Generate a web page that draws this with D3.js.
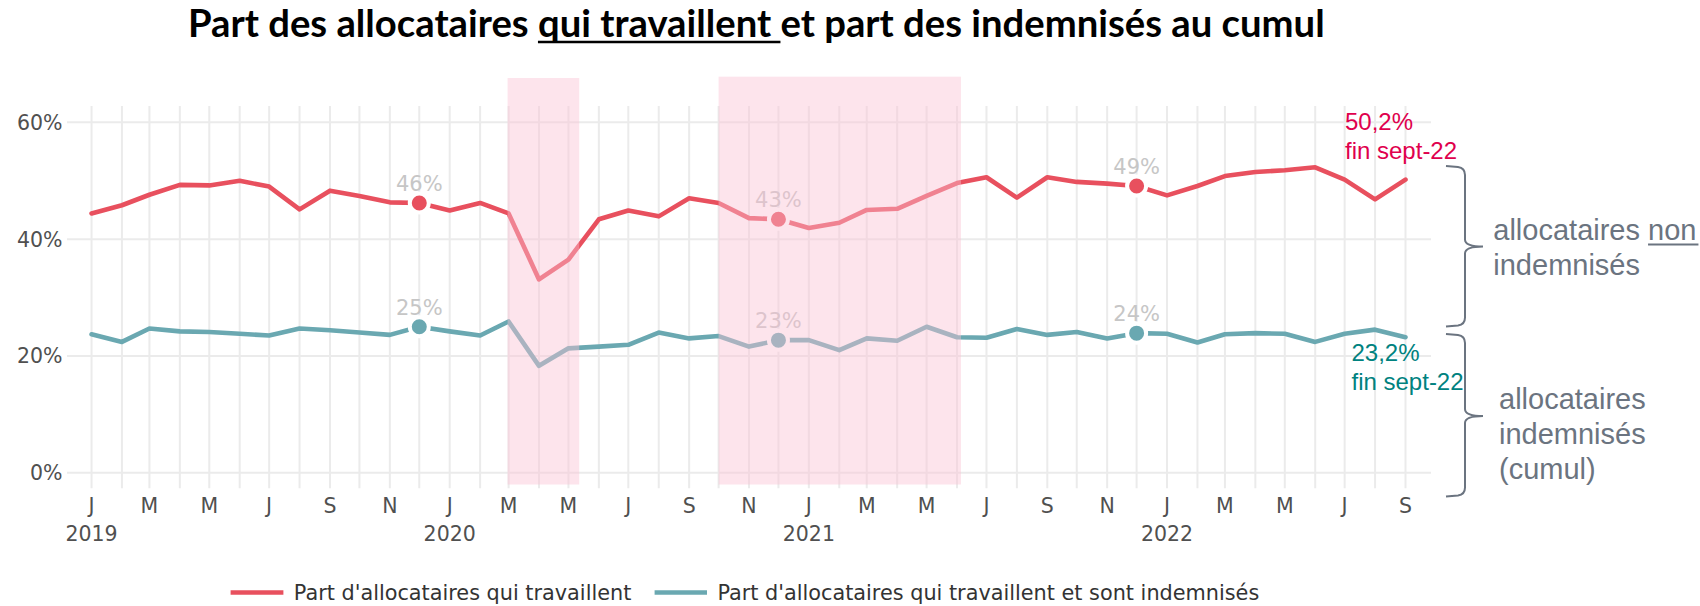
<!DOCTYPE html>
<html><head><meta charset="utf-8">
<script src="https://cdn.jsdelivr.net/npm/d3@7"></script>
<style>
html,body{margin:0;padding:0;background:#fff;}
svg{display:block;}
</style></head>
<body>
<svg id="chart" width="1700" height="606"></svg>
<script>
// ---------- DATA ----------
const months = [
 "2019-01","2019-02","2019-03","2019-04","2019-05","2019-06","2019-07","2019-08","2019-09","2019-10","2019-11","2019-12",
 "2020-01","2020-02","2020-03","2020-04","2020-05","2020-06","2020-07","2020-08","2020-09","2020-10","2020-11","2020-12",
 "2021-01","2021-02","2021-03","2021-04","2021-05","2021-06","2021-07","2021-08","2021-09","2021-10","2021-11","2021-12",
 "2022-01","2022-02","2022-03","2022-04","2022-05","2022-06","2022-07","2022-08","2022-09"
];
const partTravaillent = [
 44.4,45.8,47.6,49.3,49.2,50.0,49.0,45.1,48.3,47.4,46.3,46.2,
 44.9,46.2,44.4,33.1,36.5,43.4,44.9,43.9,47.0,46.2,43.6,43.4,
 41.9,42.8,45.0,45.2,47.4,49.6,50.6,47.1,50.6,49.8,49.5,49.1,
 47.5,49.1,50.8,51.5,51.8,52.3,50.2,46.8,50.2
];
const partIndemnises = [
 23.7,22.4,24.7,24.2,24.1,23.8,23.5,24.7,24.4,24.0,23.6,25.0,
 24.2,23.5,25.9,18.3,21.3,21.6,21.9,24.0,23.0,23.4,21.6,22.7,
 22.7,21.0,23.0,22.6,25.0,23.2,23.1,24.6,23.6,24.1,23.0,23.9,
 23.8,22.3,23.7,23.9,23.8,22.4,23.8,24.5,23.2
];
const seriesNames = ["Part d'allocataires qui travaillent","Part d'allocataires qui travaillent et sont indemnisés"];
const seriesColors = ["#e8505e","#6aa8b1"];
const yTicks = [0,20,40,60];
const monthLetters = ["J","F","M","A","M","J","J","A","S","O","N","D"];
const highlightMonths = ["2019-12","2020-12","2021-12"];
const shadedPeriods = [["2020-02-29","2020-05-12"],["2020-10-01","2021-06-05"]];
const titleParts = ["Part des allocataires ","qui travaillent ","et part des indemnisés au cumul"];
const endLabels = [["50,2%","fin sept-22"],["23,2%","fin sept-22"]];
const braceLabels = [[["allocataires ","non"],["indemnisés"]],[["allocataires"],["indemnisés"],["(cumul)"]]];

// ---------- SETUP ----------
const svg = d3.select("#chart");
const parseM = d3.utcParse("%Y-%m");
const parseD = d3.utcParse("%Y-%m-%d");
const dates = months.map(parseM);
const x = d3.scaleUtc().domain([Date.UTC(2018,11,7), Date.UTC(2022,8,27)]).range([67,1431]);
const y = d3.scaleLinear().domain([-2.67, 62.8]).range([488.3,106]);
const axisFont = "'DejaVu Sans', Verdana, sans-serif";
const annFont = "'Liberation Sans', Arial, sans-serif";

// gridlines
const grid = svg.append("g");
grid.selectAll("line.v").data(dates).join("line")
  .attr("x1", d=>x(d)).attr("x2", d=>x(d)).attr("y1", y.range()[1]).attr("y2", y.range()[0])
  .attr("stroke","#ebebeb").attr("stroke-width",2);
grid.selectAll("line.h").data(yTicks).join("line")
  .attr("x1", x.range()[0]).attr("x2", x.range()[1]).attr("y1", d=>y(d)).attr("y2", d=>y(d))
  .attr("stroke","#ebebeb").attr("stroke-width",2);

// y axis labels
svg.append("g").selectAll("text").data(yTicks).join("text")
  .attr("x", 62.5).attr("y", d=>y(d)+7.5).attr("text-anchor","end")
  .style("font-family",axisFont).style("font-size","20.5px").attr("fill","#505050")
  .text(d=>d+"%");

// x axis labels (every 2 months)
const xl = svg.append("g").style("font-family",axisFont).style("font-size","20.5px").attr("fill","#505050");
dates.forEach((d,i)=>{
  if (d.getUTCMonth()%2===0){
    xl.append("text").attr("x",x(d)).attr("y",513).attr("text-anchor","middle").text(monthLetters[d.getUTCMonth()]);
  }
  if (d.getUTCMonth()===0){
    xl.append("text").attr("x",x(d)).attr("y",540.5).attr("text-anchor","middle").text(d.getUTCFullYear());
  }
});

// lines
const seriesVals = [partTravaillent, partIndemnises];
const line = d3.line().x((v,i)=>x(dates[i])).y(v=>y(v));
seriesVals.forEach((vals,k)=>{
  svg.append("path").datum(vals).attr("d",line).attr("fill","none")
    .attr("stroke",seriesColors[k]).attr("stroke-width",4.6).attr("stroke-linejoin","round").attr("stroke-linecap","round");
});

// markers + labels
seriesVals.forEach((vals,k)=>{
  highlightMonths.forEach(m=>{
    const i = months.indexOf(m);
    const cx = x(dates[i]), cy = y(vals[i]);
    svg.append("circle").attr("cx",cx).attr("cy",cy).attr("r",9.5)
      .attr("fill",seriesColors[k]).attr("stroke","#fff").attr("stroke-width",4);
    svg.append("text").attr("x",cx).attr("y",cy-12).attr("text-anchor","middle")
      .style("font-family",axisFont).style("font-size","21px").attr("fill","#c6c6c6")
      .text(Math.round(vals[i])+"%");
  });
});

// shaded periods (overlay)
svg.append("g").selectAll("rect").data(shadedPeriods).join("rect")
  .attr("x", d=>x(parseD(d[0]))).attr("width", d=>x(parseD(d[1]))-x(parseD(d[0])))
  .attr("y", (d,i)=> i===0 ? 78 : 76.7).attr("height", (d,i)=> 484.5 - (i===0 ? 78 : 76.7))
  .attr("fill","rgb(250,194,212)").attr("fill-opacity",0.44);

// end annotations
const endColors = ["#e0004d","#00827f"];
const endPos = [[1345,130],[1351.5,361]];
endLabels.forEach((lines,k)=>{
  const t = svg.append("text").style("font-family",annFont).style("font-size","24px").attr("fill",endColors[k]);
  lines.forEach((s,j)=> t.append("tspan").attr("x",endPos[k][0]).attr("y",endPos[k][1]+j*28.5).text(s));
});

// braces
const braceGray = "#6b7480";
function bracePath(x0, xs, xt, top, mid, bottom){
  const r = 7;
  return `M${x0},${top} L${xs-r},${top+1} Q${xs},${top+2} ${xs},${top+r+2} L${xs},${mid-r} Q${xs},${mid} ${xt},${mid} Q${xs},${mid} ${xs},${mid+r} L${xs},${bottom-r-2} Q${xs},${bottom-2} ${xs-r},${bottom-1} L${x0},${bottom}`;
}
const braces = [[166,246.5,326.5],[334,416,496.5]];
braces.forEach(b=>{
  svg.append("path").attr("d",bracePath(1446,1465,1483,b[0],b[1],b[2]))
    .attr("fill","none").attr("stroke",braceGray).attr("stroke-width",2);
});
const braceTextPos = [[1493.3,239.5],[1499,408.5]];
braceLabels.forEach((lines,k)=>{
  lines.forEach((parts,j)=>{
    const t = svg.append("text").attr("x",braceTextPos[k][0]).attr("y",braceTextPos[k][1]+j*35)
      .style("font-family",annFont).style("font-size","29px").attr("fill",braceGray).attr("xml:space","preserve");
    parts.forEach(p=> t.append("tspan").text(p));
    if (parts.length>1){
      const node = t.node();
      const start = node.getStartPositionOfChar(parts[0].length).x;
      const end = node.getEndPositionOfChar(parts[0].length+parts[1].length-1).x;
      svg.append("line").attr("x1",start).attr("x2",end+2)
        .attr("y1",braceTextPos[k][1]+j*35+5).attr("y2",braceTextPos[k][1]+j*35+5)
        .attr("stroke",braceGray).attr("stroke-width",2.2);
    }
  });
});

// title
const title = svg.append("text").attr("x",188).attr("y",37)
  .style("font-family","Lato, 'Open Sans', sans-serif").style("font-weight","700").style("font-size","32px")
  .attr("fill","#000").attr("xml:space","preserve").text(titleParts.join(""));
const w0 = title.node().getComputedTextLength();
title.style("font-size", (32*1137/w0)+"px");
{
  const node = title.node();
  const s = node.getStartPositionOfChar(titleParts[0].length).x;
  const e = node.getStartPositionOfChar(titleParts[0].length+titleParts[1].length).x;
  svg.append("line").attr("x1",s).attr("x2",e).attr("y1",42).attr("y2",42).attr("stroke","#000").attr("stroke-width",2.5);
}

// legend
const legendPos = [[230.6,283.4,293.8],[654.6,707,717.4]];
const lg = svg.append("g");
seriesNames.forEach((n,k)=>{
  lg.append("line").attr("x1",legendPos[k][0]).attr("x2",legendPos[k][1]).attr("y1",592.5).attr("y2",592.5)
    .attr("stroke",seriesColors[k]).attr("stroke-width",4.5);
  lg.append("text").attr("x",legendPos[k][2]).attr("y",600)
    .style("font-family",axisFont).style("font-size","20.8px").attr("fill","#333").text(n);
});
</script>
</body></html>
